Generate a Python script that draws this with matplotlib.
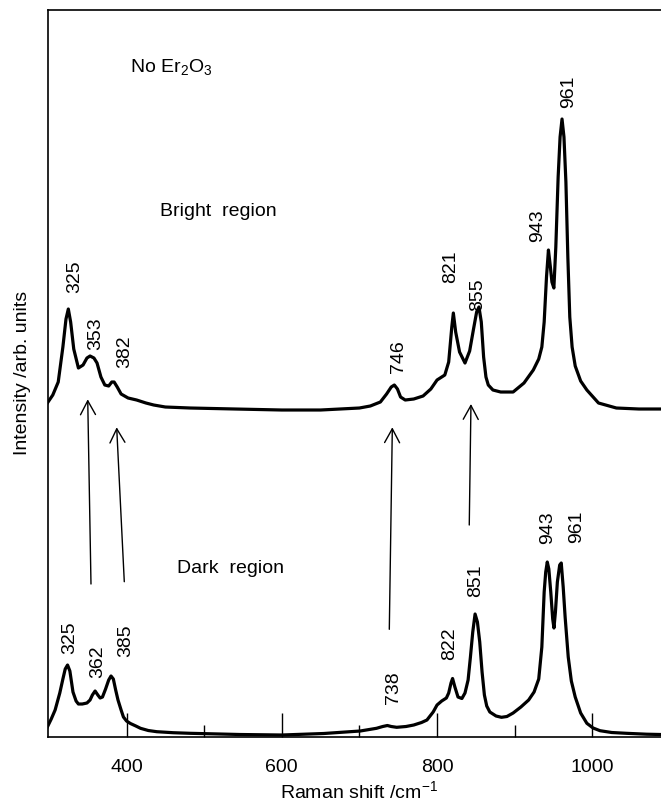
import matplotlib
matplotlib.use("Agg")
import matplotlib.pyplot as plt
from matplotlib.ticker import FixedLocator

plt.rcParams['font.family'] = ['Liberation Sans', 'DejaVu Sans']
plt.rcParams['mathtext.default'] = 'regular'
plt.rcParams['font.size'] = 14

# bright region spectrum (Raman shift, intensity)
bright_x = [298, 305, 312, 318, 322, 325, 328, 332, 338, 344, 349, 353, 358, 362, 367,
            372, 377, 381, 384, 388, 393, 402, 413, 425, 435, 450, 482, 540, 600, 650,
            700, 714, 727, 735, 741, 745, 749, 753, 759, 770, 782, 792, 800, 810, 815,
            819, 821, 824, 829, 836, 842, 847, 851, 854, 857, 860, 863, 866, 872, 882,
            898, 912, 924, 931, 935, 938, 941, 943.5, 946, 948, 950.5, 953, 956, 958.5,
            961, 963.5, 966, 968.5, 971, 974, 978, 985, 993, 1008, 1031, 1060, 1100]
bright_y = [334, 342, 355, 390, 418, 428, 415, 388, 369, 372, 379, 381, 379, 374, 360,
            352, 351, 355, 355, 350, 343, 339, 337, 334, 332, 330, 329, 328, 327, 327,
            329, 331, 335, 343, 350, 352, 348, 340, 337, 338, 341, 348, 357, 362, 375,
            410, 424, 405, 385, 374, 386, 408, 425, 430, 415, 380, 360, 352, 347, 345,
            345, 354, 367, 378, 390, 415, 460, 487, 470, 455, 449, 490, 560, 600,
            618, 600, 555, 480, 420, 390, 371, 356, 347, 334, 329, 328, 328]

# dark region spectrum
dark_x = [298, 303, 308, 314, 318, 321, 324, 327, 331, 335, 338, 343, 349, 353, 356,
          359.5, 363, 366, 369, 373, 377, 380, 383, 386, 389, 393, 396, 400, 405, 412,
          418, 428, 439, 460, 482, 520, 546, 600, 654, 701, 722, 730, 736, 741, 748,
          760, 770, 780, 787, 795, 800, 806, 812, 815, 818, 820, 823, 827, 832, 836,
          840, 843, 846, 849, 852, 855, 858, 861, 864, 868, 876, 883, 890, 898, 908,
          918, 925, 931, 935, 938, 940, 942, 944, 946.5, 949, 950.6, 952.5, 955, 958,
          960, 962.5, 965, 969, 973, 978, 985, 993, 1001, 1010, 1025, 1044, 1070, 1100]
dark_y = [10, 18, 27, 44, 58, 68, 72, 66, 45, 36, 33, 33, 34, 37, 42,
          46, 42, 39, 40, 48, 57, 61, 58, 47, 37, 27, 20, 16, 13.5, 11,
          8.7, 6.5, 5.3, 4.3, 3.7, 3, 2.5, 2, 3.5, 6, 8.7, 10.5, 11.5, 10.5, 9.7,
          10.5, 12, 14.5, 17, 25, 32, 36, 39, 44, 54, 58.5, 50, 40, 38.5, 44,
          57, 80, 105, 123, 115, 95, 65, 42, 31, 25, 21, 19.7, 20.5, 24, 30,
          37, 45, 58, 90, 145, 165, 175, 168, 145, 118, 109, 125, 155, 172,
          174, 150, 120, 80, 56, 40, 24, 13.7, 9, 6.3, 4.5, 3.7, 2.8, 2.3]

# peak labels: text, x, y (bottom of rotated label)
bright_labels = ["325", "353", "382", "746", "821", "855", "943", "961"]
bright_lab_x = [333.6, 360.7, 397.1, 750.1, 818, 852.7, 929.1, 969.1]
bright_lab_y = [443.7, 387, 369, 364.3, 454, 426, 495.3, 628.7]

dark_labels = ["325", "362", "385", "738", "822", "851", "943", "961"]
dark_lab_x = [327.2, 362.9, 398.9, 743.6, 816.7, 850.2, 942, 979.9]
dark_lab_y = [82.7, 58.7, 80.3, 33, 77, 140.3, 193, 193.7]

# arrows from dark peaks to bright peaks
arrow_x0 = [354.2, 397.1, 738.5, 841.5]
arrow_y0 = [153, 155.3, 107.7, 212]
arrow_x1 = [350, 387.3, 742.4, 843.7]
arrow_y1 = [337.7, 309.7, 309.7, 333]

fig = plt.figure(figsize=(6.61, 8.06), dpi=100)
ax = fig.add_axes([0.072, 0.0856, 0.9415, 0.9026])

ax.plot(bright_x, bright_y, color='black', lw=2.3, solid_joinstyle='round')
ax.plot(dark_x, dark_y, color='black', lw=2.3, solid_joinstyle='round')

for t, x, y in zip(bright_labels, bright_lab_x, bright_lab_y):
    ax.text(x, y, t, rotation=90, ha='center', va='bottom', fontsize=14)
for t, x, y in zip(dark_labels, dark_lab_x, dark_lab_y):
    ax.text(x, y, t, rotation=90, ha='center', va='bottom', fontsize=14)

for x0, y0, x1, y1 in zip(arrow_x0, arrow_y0, arrow_x1, arrow_y1):
    ax.annotate("", xy=(x1, y1), xytext=(x0, y0),
                arrowprops=dict(arrowstyle="->,head_length=0.5,head_width=0.27",
                                mutation_scale=20, lw=1.0, color='black',
                                shrinkA=0, shrinkB=0))

ax.text(404.5, 665, "No Er$_2$O$_3$", ha='left', va='baseline', fontsize=14)
ax.text(443.2, 526, "Bright  region", ha='left', va='center', fontsize=14)
ax.text(464.6, 169, "Dark  region", ha='left', va='center', fontsize=14)

ax.set_xlim(298.3, 1100)
ax.set_ylim(0, 727.5)
ax.xaxis.set_major_locator(FixedLocator([400, 600, 800, 1000]))
ax.xaxis.set_minor_locator(FixedLocator([500, 700, 900]))
ax.tick_params(axis='x', which='major', direction='in', length=17, width=1.0, pad=16, labelsize=14)
ax.tick_params(axis='x', which='minor', direction='in', length=8.5, width=1.0)
ax.set_yticks([])
for s in ax.spines.values():
    s.set_linewidth(1.2)

ax.set_xlabel("Raman shift /cm$^{-1}$", fontsize=14, labelpad=3)
ax.set_ylabel("Intensity /arb. units", fontsize=14, labelpad=12)

fig.savefig("out.png", dpi=100)
